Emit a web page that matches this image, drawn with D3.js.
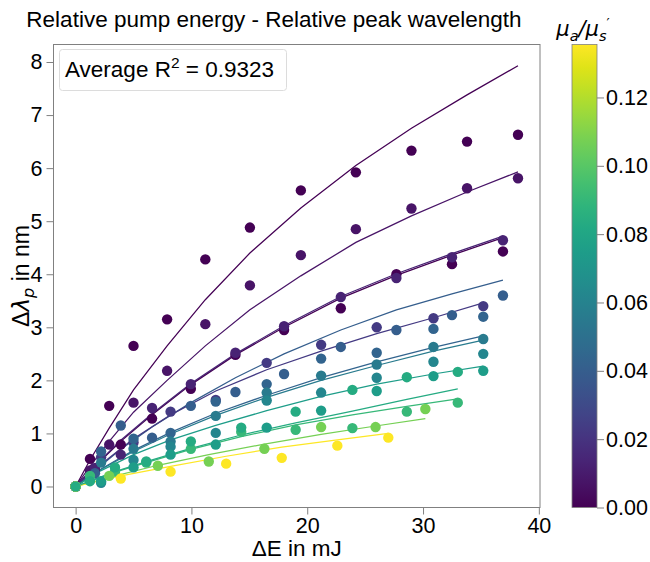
<!DOCTYPE html>
<html><head><meta charset="utf-8">
<script src="https://cdn.jsdelivr.net/npm/d3@7/dist/d3.min.js"></script>
<style>
body{margin:0;background:#fff}
svg{display:block}
text{font-family:"Liberation Sans",Arial,sans-serif;fill:#000}
</style>
</head><body><svg id="c" width="650" height="562"></svg>
<script>
// ---- data ----
const xGridA = [0,1.24,2.9,5.0,7.9,11.2,15.05,19.45,24.2,29.0,33.8,38.2];
const xGridB = [0,1.67,3.9,6.6,9.95,13.8,18.0,22.9,27.7,32.5,36.9];
const xGridC = [0,2.2,5.0,8.2,12.1,16.5,21.2,26.0,30.9,35.2];
const xGridD = [0,1.24,3.4,6.1,9.95,14.3,19.0,23.9,28.6,33.0];
const xGridE = [0,2.9,7.1,11.5,16.3,21.2,25.9,30.2];
const xGridF = [0,3.9,8.2,13.0,17.8,22.6,27.0];

const seriesMu = [0.000,0.007,0.000,0.013,0.040,0.023,0.043,0.056,0.062,0.075,0.091,0.107,0.135,0.083];
const seriesX  = [xGridA,xGridA,xGridB,xGridB,xGridB,xGridC,xGridC,xGridC,xGridC,xGridC,xGridD,xGridE,xGridF,xGridD];
const measured = [
  [0,0.52,1.52,2.65,3.15,4.28,4.88,5.58,5.92,6.33,6.50,6.63],
  [0,0.30,0.79,1.58,2.18,3.06,3.79,4.36,4.85,5.24,5.62,5.81],
  [0,0.30,0.79,1.28,1.84,2.48,2.95,3.36,4.00,4.19,4.43],
  [0,0.35,0.60,1.48,1.93,2.52,3.02,3.57,3.93,4.32,4.64],
  [0,0.25,1.15,0.92,1.52,1.78,2.12,2.63,2.95,3.23,3.60],
  [0,0.55,0.83,1.41,1.63,2.33,2.67,3.00,3.17,3.40],
  [0,0.66,0.90,1.01,1.60,1.93,2.41,2.52,2.97,3.20],
  [0,0.45,0.71,0.85,1.33,1.77,2.09,2.30,2.63,2.78],
  [0,0.07,0.50,0.75,1.01,1.62,1.77,2.05,2.35,2.50],
  [0,0.10,0.36,0.60,0.79,1.11,1.43,1.80,2.08,2.18],
  [0,0.20,0.28,0.45,0.71,1.03,1.07,1.10,1.41,1.58],
  [0,0.20,0.39,0.47,0.71,1.12,1.12,1.46],
  [0,0.15,0.28,0.43,0.54,0.77,0.92],
  [0,0.10,0.36,0.47,0.85,1.11,1.41,1.82,2.06,2.16]
];
const fitted = [
  [0,0.50,1.10,1.82,2.65,3.52,4.40,5.25,6.05,6.75,7.38,7.93],
  [0,0.38,0.85,1.40,2.00,2.65,3.33,3.97,4.60,5.10,5.55,5.93],
  [0,0.38,0.85,1.35,1.92,2.48,3.00,3.55,3.98,4.36,4.69],
  [0,0.39,0.87,1.37,1.94,2.50,3.03,3.58,4.01,4.39,4.72],
  [0,0.30,0.70,1.12,1.58,2.05,2.50,2.95,3.33,3.63,3.89],
  [0,0.42,0.90,1.35,1.80,2.20,2.55,2.88,3.18,3.46],
  [0,0.33,0.68,1.02,1.38,1.72,2.05,2.35,2.62,2.84],
  [0,0.32,0.66,0.99,1.34,1.68,2.00,2.28,2.55,2.76],
  null,
  [0,0.30,0.60,0.88,1.15,1.43,1.70,1.93,2.12,2.27],
  [0,0.10,0.27,0.45,0.70,0.94,1.16,1.35,1.51,1.65],
  [0,0.17,0.40,0.60,0.80,0.98,1.14,1.28],
  [0,0.20,0.38,0.57,0.74,0.88,1.00],
  [0,0.10,0.28,0.47,0.72,0.97,1.20,1.42,1.64,1.84]
];
const xTicks = [0,10,20,30,40];
const yTicks = [0,1,2,3,4,5,6,7,8];
const cbTicks = [0,0.02,0.04,0.06,0.08,0.10,0.12];
const muMax = 0.1355;
const avgR2 = "0.9323";

// ---- layout ----
const svg = d3.select("#c");
const L=53.5, R=540, T=44.5, B=507.5;
const x = d3.scaleLinear().domain([-1.91,40.1]).range([L,R]);
const y = d3.scaleLinear().domain([-0.396,8.33]).range([B,T]);
const c = d3.scaleSequential(d3.interpolateViridis).domain([0,muMax]);
const axisCol = "#808080";
const fs = 21.5;

// title
svg.append("text").attr("x",274).attr("y",27).attr("text-anchor","middle")
  .style("font-size","22.5px").text("Relative pump energy - Relative peak wavelength");

// data
const plot = svg.append("g");
const line = d3.line().x(d=>x(d[0])).y(d=>y(d[1]));
seriesMu.forEach((mu,i)=>{
  if(fitted[i]){
    plot.append("path").datum(seriesX[i].map((v,j)=>[v,fitted[i][j]]))
      .attr("d",line).attr("fill","none").attr("stroke",c(mu)).attr("stroke-width",1.25);
  }
});
seriesMu.forEach((mu,i)=>{
  plot.selectAll(null).data(seriesX[i].map((v,j)=>[v,measured[i][j]])).enter()
    .append("circle").attr("cx",d=>x(d[0])).attr("cy",d=>y(d[1])).attr("r",5.2)
    .attr("fill",c(mu));
});

// frame
svg.append("rect").attr("x",L).attr("y",T).attr("width",R-L).attr("height",B-T)
  .attr("fill","none").attr("stroke",axisCol).attr("stroke-width",1);

// axes
const xa = svg.append("g").attr("transform",`translate(0,${B})`)
  .call(d3.axisBottom(x).tickValues(xTicks).tickSize(7).tickPadding(3.5).tickFormat(d3.format("d")));
const ya = svg.append("g").attr("transform",`translate(${L},0)`)
  .call(d3.axisLeft(y).tickValues(yTicks).tickSize(7).tickPadding(4).tickFormat(d3.format("d")));
[xa,ya].forEach(a=>{
  a.select(".domain").remove();
  a.selectAll(".tick line").attr("stroke",axisCol);
  a.selectAll(".tick text").style("font-size",fs+"px").attr("fill","#000")
   .style("font-family","'Liberation Sans',Arial,sans-serif");
});

// axis labels
svg.append("text").attr("x",(L+R)/2).attr("y",556).attr("text-anchor","middle")
  .style("font-size","22.5px").text("ΔE in mJ");
const yl = svg.append("text").attr("transform",`translate(29,${(T+B)/2}) rotate(-90)`)
  .attr("text-anchor","middle").style("font-size","23px");
yl.append("tspan").text("Δ");
yl.append("tspan").style("font-style","italic").style("font-family","'DejaVu Sans'").text("λ");
yl.append("tspan").style("font-style","italic").style("font-family","'DejaVu Sans'").style("font-size","16px").attr("dy",5).text("p");
yl.append("tspan").attr("dy",-5).text(" in nm");

// legend box
svg.append("rect").attr("x",59.5).attr("y",49.5).attr("width",227).attr("height",41).attr("rx",3)
  .attr("fill","#fff").attr("stroke","#dcdcdc");
const lt = svg.append("text").attr("x",65).attr("y",77).style("font-size","22.5px");
lt.append("tspan").text("Average R");
lt.append("tspan").attr("dy",-9).style("font-size","15.5px").text("2");
lt.append("tspan").attr("dy",9).text(" = "+avgR2);

// colorbar
const cbL=572, cbW=25;
const cy = d3.scaleLinear().domain([0,muMax]).range([B,T]);
const defs = svg.append("defs");
const grad = defs.append("linearGradient").attr("id","vir").attr("x1",0).attr("y1",1).attr("x2",0).attr("y2",0);
d3.range(0,1.0001,0.05).forEach(t=>grad.append("stop").attr("offset",t).attr("stop-color",d3.interpolateViridis(t)));
svg.append("rect").attr("x",cbL).attr("y",T).attr("width",cbW).attr("height",B-T).attr("fill","url(#vir)");
svg.append("rect").attr("x",cbL).attr("y",T).attr("width",cbW).attr("height",B-T)
  .attr("fill","none").attr("stroke",axisCol).attr("stroke-width",0.8);
const ca = svg.append("g").attr("transform",`translate(${cbL+cbW},0)`)
  .call(d3.axisRight(cy).tickValues(cbTicks).tickSize(7).tickPadding(2).tickFormat(d3.format(".2f")));
ca.select(".domain").remove();
ca.selectAll(".tick line").attr("stroke",axisCol);
ca.selectAll(".tick text").style("font-size",fs+"px").attr("fill","#000")
  .style("font-family","'Liberation Sans',Arial,sans-serif");

// colorbar label
const cl = svg.append("text").attr("x",583).attr("y",36).attr("text-anchor","middle")
  .style("font-size","21px").style("font-family","'DejaVu Sans'").style("font-style","italic");
cl.append("tspan").text("μ");
cl.append("tspan").style("font-size","14.5px").attr("dy",5).text("a");
cl.append("tspan").attr("dy",-5).text("/μ");
cl.append("tspan").style("font-size","14.5px").attr("dy",5).text("s");
cl.append("tspan").style("font-size","14px").style("font-style","normal").attr("dx",0).attr("dy",-13).text("′");
</script></body></html>
